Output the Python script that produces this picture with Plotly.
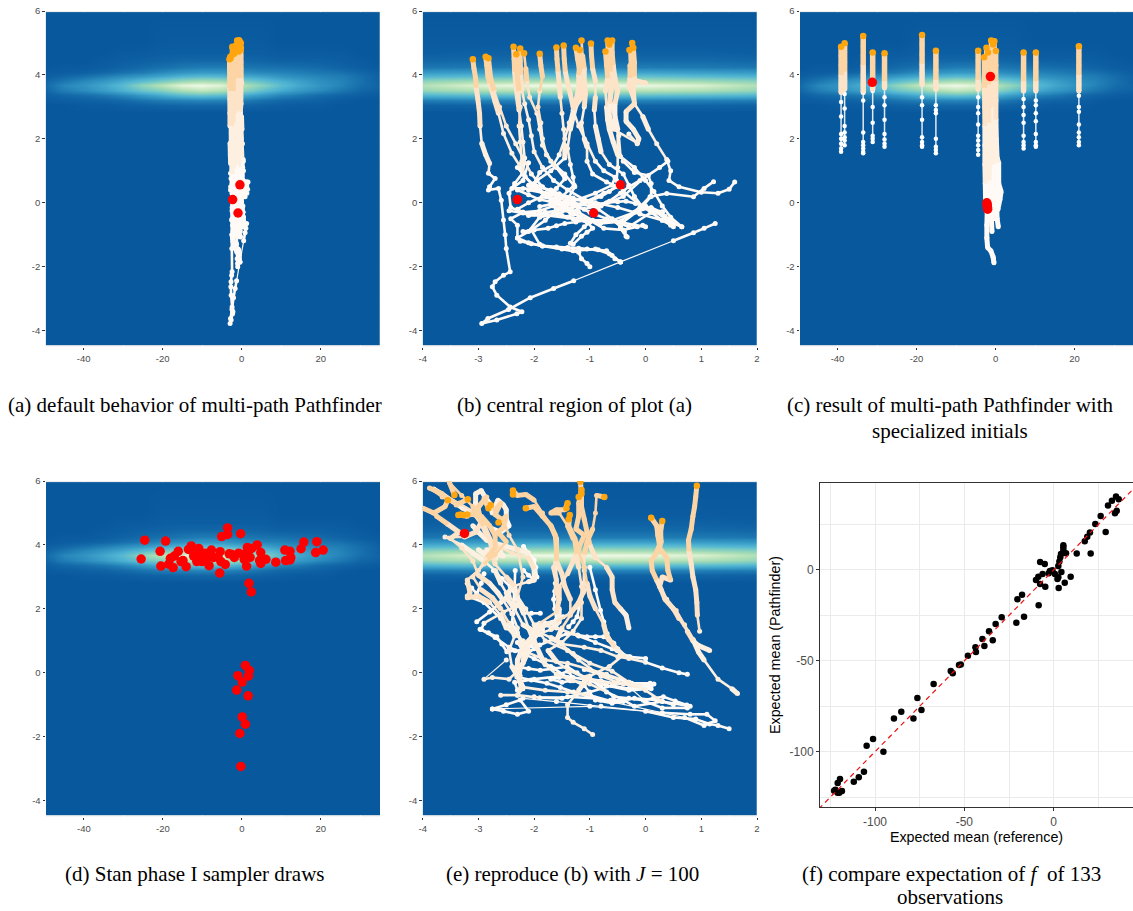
import plotly.graph_objects as go

# ---------- density background ----------
heat_y = [-4.44, -4.42, 2.85, 3.05, 3.2, 3.37, 3.53, 3.68, 3.82, 3.95, 4.1, 4.25, 4.45, 4.7, 5.0, 5.95, 5.96]
wide_x = [-50, -45, -40, -35, -30, -25, -20, -15, -10, -5, 0, 5, 10, 15, 20, 25, 30, 35]
wide_z = [
    [0] * 18,
    [0] * 18,
    [0] * 18,
    [0, 0, .01, .01, .02, .03, .04, .05, .05, .05, .04, .03, .02, .01, .01, 0, 0, 0],
    [.01, .02, .03, .04, .06, .09, .12, .14, .15, .14, .12, .08, .05, .04, .03, .01, 0, 0],
    [.02, .05, .07, .10, .15, .22, .30, .38, .42, .38, .30, .22, .14, .10, .06, .04, .02, .01],
    [.04, .12, .17, .24, .33, .45, .55, .70, .78, .72, .58, .42, .30, .22, .16, .10, .05, .03],
    [.05, .15, .20, .28, .38, .58, .75, .95, 1.0, .92, .72, .55, .38, .28, .20, .14, .07, .04],
    [.04, .10, .16, .22, .30, .40, .50, .62, .68, .65, .52, .42, .32, .25, .18, .14, .08, .03],
    [.02, .05, .08, .12, .17, .22, .28, .34, .38, .36, .30, .26, .20, .17, .14, .12, .07, .03],
    [.01, .02, .03, .05, .08, .11, .16, .20, .22, .22, .18, .15, .14, .12, .10, .08, .05, .02],
    [0, .01, .01, .02, .04, .06, .08, .10, .12, .12, .10, .09, .08, .07, .06, .04, .02, .01],
    [0, 0, 0, .01, .02, .03, .04, .05, .05, .05, .05, .04, .03, .03, .03, .02, .01, 0],
    [0, 0, 0, 0, .01, .01, .02, .02, .02, .02, .02, .02, .01, .01, .01, .01, 0, 0],
    [0, 0, 0, 0, 0, 0, .01, .01, .01, .01, .01, .01, 0, 0, 0, 0, 0, 0],
    [0] * 18,
    [0] * 18,
]
zoom_x = [-4, -3, -2, -1, 0, 1, 2]
zoom_z = [
    [0] * 7,
    [0] * 7,
    [0] * 7,
    [.03, .04, .04, .04, .04, .04, .03],
    [.12, .14, .14, .14, .14, .13, .12],
    [.34, .38, .40, .40, .40, .38, .34],
    [.60, .70, .74, .76, .74, .70, .60],
    [.72, .92, 1.0, 1.0, .98, .90, .70],
    [.58, .66, .68, .70, .68, .64, .56],
    [.34, .38, .42, .42, .42, .38, .34],
    [.22, .24, .26, .26, .26, .24, .22],
    [.10, .11, .12, .12, .12, .11, .10],
    [.05, .06, .06, .06, .06, .06, .05],
    [.02, .03, .03, .03, .03, .03, .02],
    [.01, .01, .01, .01, .01, .01, .01],
    [0] * 7,
    [0] * 7,
]

# ---------- panel (a)/(b): optimisation paths ----------
paths_b = [
    [(-3.1,4.49),(-3.08,4.2),(-3.05,3.9),(-3.04,3.6),(-3.01,3.25),(-2.98,2.8),(-2.97,2.4),(-2.94,1.86),(-2.87,1.5),(-2.8,1.23),(-2.82,.92),(-2.7,.76),(-2.8,.5),(-2.82,.4),(-2.64,.45),(-2.59,.08),(-2.55,-.54),(-2.52,-1.0),(-2.5,-1.43),(-2.43,-2.16),(-2.55,-2.27),(-2.7,-2.47),(-2.75,-2.63),(-2.67,-2.89),(-2.43,-3.26),(-2.22,-3.41),(-2.31,-3.47),(-2.67,-3.67),(-2.94,-3.78),(-2.83,-3.62),(-2.46,-3.34),(-2.07,-2.97),(-1.65,-2.68),(-1.29,-2.44),(-.45,-1.85),(.5,-1.19),(.86,-.94),(1.05,-.8),(1.25,-.65)],
    [(-2.87,4.57),(-2.85,4.3),(-2.83,3.95),(-2.8,3.75),(-2.76,3.53),(-2.7,3.15),(-2.64,2.8),(-2.55,2.17),(-2.4,1.55),(-2.25,1.13),(-2.16,.82),(-1.95,.45),(-1.77,.19),(-1.47,-.13),(-1.17,-.44),(-.81,-.65),(-.51,-.6),(-.33,-.44),(-.1,-.13),(.08,.19),(.38,.29),(.86,.19),(1.05,.45),(1.22,.66)],
    [(-2.82,4.52),(-2.8,4.2),(-2.78,3.9),(-2.72,3.5),(-2.62,3.0),(-2.5,2.4),(-2.33,1.85),(-2.2,1.4),(-2.05,.9),(-1.85,.5),(-1.6,.2),(-1.3,-.05),(-1.0,-.3),(-.7,-.5),(-.3,-.75),(.1,-.3),(.3,-.28)],
    [(-2.37,4.88),(-2.36,4.5),(-2.35,4.1),(-2.33,3.7),(-2.3,3.3),(-2.27,2.9),(-2.23,2.4),(-2.2,1.9),(-2.17,1.4),(-2.2,.95),(-2.35,.6),(-2.45,.3),(-2.42,-.15),(-2.2,-.3),(-1.9,-.35),(-1.5,-.4),(-1.1,-.55),(-.6,-.55),(-.2,-.3),(.1,-.15),(.3,-.3)],
    [(-2.25,4.83),(-2.25,4.45),(-2.24,4.0),(-2.22,3.55),(-2.17,3.1),(-2.1,2.6),(-2.05,2.1),(-2,1.6),(-1.85,1.1),(-1.65,.7),(-1.4,.4),(-1.1,.1),(-.85,-.2),(-.6,-.5),(-.45,-.75),(-.38,-.9),(-.33,-1.07)],
    [(-2.32,4.65),(-2.31,4.3),(-2.3,3.9),(-2.27,3.5),(-2.25,3.0),(-2.27,2.4),(-2.25,1.9),(-2.22,1.3),(-2.2,.9),(-2.0,.5),(-1.8,.2),(-1.5,-.1),(-1.2,-.3),(-.95,-.55),(-1.1,-.75),(-1.25,-1.0),(-1.35,-1.27)],
    [(-2.18,4.68),(-2.15,4.2),(-2.13,3.8),(-2.08,3.3),(-1.95,2.8),(-1.9,2.3),(-1.85,1.8),(-1.7,1.3),(-1.45,.9),(-1.27,.5),(-1.4,.1),(-1.65,-.1),(-1.9,-.25),(-2.2,-.3),(-2.42,-.5),(-2.3,-.7),(-2.3,-1.1),(-2.1,-1.25),(-1.85,-1.35),(-1.5,-1.45),(-1.2,-1.55),(-1.15,-1.75),(-1.05,-1.9),(-1,-2)],
    [(-1.9,4.66),(-1.88,4.3),(-1.85,3.95),(-1.9,3.5),(-1.93,3.0),(-1.88,2.5),(-1.85,2.0),(-1.78,1.5),(-1.6,1.1),(-1.45,.75),(-1.6,.45),(-1.85,.2),(-2.1,.0),(-2.3,-.2),(-2.1,-.4),(-1.75,-.4),(-1.3,-.5),(-1.0,-.6),(-.6,-.55),(-.2,-.7),(0,-.75)],
    [(-1.6,4.86),(-1.59,4.5),(-1.57,4.1),(-1.55,3.7),(-1.53,3.3),(-1.5,2.8),(-1.47,2.3),(-1.45,1.8),(-1.45,1.4),(-1.7,1.0),(-1.95,.7),(-2.1,.4),(-1.8,.3),(-1.3,.1),(-.9,.0),(-.5,-.15),(-.1,-.35),(.3,-.55),(.5,-.65),(.65,-.75)],
    [(-1.47,4.92),(-1.46,4.5),(-1.44,4.1),(-1.4,3.75),(-1.35,3.4),(-1.3,3.0),(-1.37,2.5),(-1.45,2.0),(-1.55,1.5),(-1.65,1.2),(-1.9,.95),(-2.0,.6),(-1.7,.35),(-1.3,.15),(-.8,-.1),(-.4,.2),(-.05,.75),(.25,1.1),(.4,1.3)],
    [(-1.25,4.85),(-1.22,4.5),(-1.18,4.1),(-1.13,3.7),(-1.15,3.3),(-1.25,3.05),(-1.3,2.7),(-1.35,2.3),(-1.4,1.7),(-1.35,1.2),(-1.3,.8),(-1.28,.55),(-1.5,.2),(-1.6,-.05),(-1.3,-.35),(-1.0,-.55),(-.75,-.8),(-.4,-.85),(-.15,-.75),(-.05,-.7)],
    [(-1.15,5.08),(-1.13,4.6),(-1.1,4.2),(-1.1,3.8),(-1.08,3.4),(-1.1,3.0),(-1.15,2.5),(-1.1,2.0),(-1.05,1.75),(-1.05,1.3),(-.95,.9),(-.7,.65),(-.5,.5),(-.75,.3),(-1.05,.05),(-1.35,-.2),(-1.6,-.35),(-1.9,-.45),(-2.1,-.9),(-2.3,-1.1)],
    [(-1.18,4.78),(-1.18,4.4),(-1.2,4.0),(-1.2,3.6),(-1.25,3.2),(-1.3,2.9),(-1.2,2.4),(-1.05,1.85),(-.9,1.3),(-.75,1.0),(-.55,.8),(-.6,.55),(-.9,.3),(-1.3,.05),(-1.6,-.2),(-1.8,-.55),(-2.05,-.85),(-1.9,-1.3),(-1.3,-1.5),(-.9,-1.45),(-.65,-1.6),(-.45,-1.85)],
    [(-.98,4.98),(-.97,4.6),(-.95,4.2),(-.9,3.8),(-.9,3.3),(-.92,2.9),(-.9,2.4),(-.85,2.0),(-.8,1.6),(-.65,1.2),(-.4,.9),(-.3,.55),(-.2,.2),(-.05,-.15),(.15,-.25),(.3,-.3)],
    [(-.72,4.73),(-.7,4.3),(-.68,3.9),(-.72,3.5),(-.7,3.0),(-.68,2.6),(-.65,2.3),(-.58,1.9),(-.5,1.5),(-.5,1.1),(-.52,.7),(-.4,.35),(-.15,.0),(.1,-.3),(.3,-.55),(.45,-.7)],
    [(-.68,5.08),(-.67,4.7),(-.65,4.3),(-.62,3.9),(-.62,3.5),(-.65,3.1),(-.65,2.7),(-.57,2.3),(-.15,1.87)],
    [(-.6,5.08),(-.6,4.7),(-.58,4.3),(-.55,3.9),(-.5,3.5),(-.55,3.1),(-.55,2.7),(-.5,2.3),(-.5,1.7),(-.4,1.3),(-.2,.95),(.05,.85),(.1,.6),(.1,.2),(-.1,-.2),(-.4,-.6),(-.45,-.8),(-.35,-1.05)],
    [(-.24,5.0),(-.23,4.6),(-.22,4.2),(-.23,3.85),(-.1,3.78),(0,3.75)],
    [(-.29,4.78),(-.28,4.3),(-.28,3.9),(-.3,3.6),(-.2,3.1),(-.35,2.85),(-.35,2.55),(-.22,2.3),(-.12,2.0),(-.15,1.85),(-.3,2.15)],
    [(-.22,4.85),(-.2,4.4),(-.2,3.95),(-.22,3.5),(-.2,3.1),(-.05,2.7),(.05,2.3),(.2,1.85),(.38,1.35),(.45,1.0),(.42,.7),(.6,.5),(1.0,.33),(1.3,.3),(1.5,.42),(1.6,.65)],
    [(-.65,4.95),(-.64,4.5),(-.63,4.1),(-.6,3.6),(-.62,3.1),(-.55,2.6),(-.48,2.1),(-.45,1.45),(-.2,1.1),(.0,.7),(.15,.35),(.3,-.1),(.45,-.45),(.65,-.75)],
]
tails_b = [
    [(-2.3,.4),(-2.1,.25),(-1.9,.1),(-1.7,.03),(-1.5,-.03),(-1.3,-.1),(-1.1,-.2),(-.9,-.1),(-.65,.05),(-.45,.3),(-.3,.5),(-.1,.7)],
    [(-2.45,-.25),(-2.2,-.32),(-2.0,-.35),(-1.8,-.3),(-1.6,-.25),(-1.4,-.18),(-1.2,-.1),(-1.0,.05),(-.8,.2),(-.65,.35),(-.5,.55)],
    [(-2.1,.55),(-1.9,.48),(-1.7,.4),(-1.55,.28),(-1.4,.15),(-1.3,0),(-1.2,-.15),(-1.3,-.3),(-1.4,-.45),(-1.2,-.5),(-1.05,-.6),(-.95,-.8),(-1.05,-.92),(-1.15,-1.05),(-1.3,-1.3)],
    [(-2.2,-.9),(-2.0,-.85),(-1.75,-.8),(-1.6,-.72),(-1.45,-.65),(-1.25,-.6),(-1.1,-.55),(-.8,-.6)],
    [(-2.25,-1.2),(-2.05,-1.28),(-1.85,-1.35),(-1.6,-1.38),(-1.4,-1.4),(-1.2,-1.42),(-1.05,-1.45),(-.85,-1.47),(-.7,-1.5),(-.6,-1.65),(-.55,-1.75),(-.45,-1.85)],
    [(-2.3,1.1),(-2.2,.9),(-2.25,1.2),(-2.1,1.25),(-2.2,.7),(-2.4,.45),(-2.2,.45),(-1.9,.4),(-1.75,.25),(-1.6,.1)],
    [(-1.6,-.05),(-1.45,-.02),(-1.3,.0),(-1.15,-.05),(-1.0,-.1),(-.85,-.05),(-.7,.0),(-.5,.03),(-.35,.05),(-.18,-.02),(0,-.1),(.12,-.2),(.25,-.3),(.35,-.42),(.45,-.55)],
    [(-.04,-.13),(.1,-.22),(.2,-.3),(.35,-.5),(.5,-.75)],
    [(-1.9,-.12),(-1.7,-.05),(-1.55,.05),(-1.4,-.05),(-1.55,-.2),(-1.35,-.3),(-1.5,-.12),(-1.65,.1)],
]
red_a_x = [-0.45, -2.3, -0.93]
red_a_y = [0.56, 0.1, -0.32]

# ---------- panel (c): specialised initials ----------
bar_x = [-39.1, -38.2, -33.5, -31.1, -28.1, -18.6, -15.1, -4.4, 7.1, 10.2, 21.1]
bar_dense = [
    [4.88, 4.6, 4.3, 4.0, 3.7, 3.45],
    [4.99, 4.7, 4.4, 4.1, 3.8, 3.55],
    [5.22, 4.9, 4.6, 4.3, 4.0, 3.7, 3.45],
    [4.7, 4.4, 4.1, 3.8, 3.55],
    [4.68, 4.4, 4.1, 3.8, 3.6],
    [5.25, 4.95, 4.65, 4.35, 4.05, 3.7],
    [4.76, 4.45, 4.15, 3.85, 3.55],
    [4.76, 4.45, 4.15, 3.85, 3.55],
    [4.7, 4.4, 4.1, 3.8, 3.5],
    [4.7, 4.4, 4.1, 3.8, 3.5],
    [4.9, 4.6, 4.3, 4.0, 3.7, 3.5],
]
bar_sparse = [
    [3.45, 3.15, 2.7, 2.15, 2.0, 1.85, 1.7, 1.6],
    [3.55, 3.4, 2.95, 2.4, 2.2, 2.05, 1.95, 1.8],
    [3.45, 3.2, 2.2, 1.9, 1.8, 1.7, 1.6, 1.55],
    [3.55, 3.5, 3.0, 2.5, 2.1, 2.0, 1.9],
    [3.6, 3.3, 3.05, 2.6, 2.15, 1.98, 1.85, 1.75],
    [3.7, 3.3, 3.05, 2.6, 2.05, 1.9, 1.8, 1.75],
    [3.55, 3.05, 2.9, 2.8, 2.0, 1.75, 1.65, 1.55],
    [3.55, 3.3, 3.0, 2.8, 2.45, 2.1, 1.95, 1.8, 1.65, 1.5],
    [3.5, 3.25, 3.0, 2.75, 2.5, 2.1, 1.9, 1.8, 1.7],
    [3.5, 3.2, 3.05, 2.8, 2.55, 2.15, 1.9, 1.8, 1.75],
    [3.5, 3.35, 3.0, 2.85, 2.45, 2.2, 2.05, 1.9, 1.8],
]
paths_c = [
    [(-2.9,4.55),(-2.8,4.1),(-2.8,3.6),(-2.75,3),(-2.7,2.4),(-2.7,1.8),(-2.7,1.2),(-2.6,.6),(-2.5,0)],
    [(-2.3,4.85),(-2.3,4.4),(-2.2,3.9),(-2.2,3.3),(-2.1,2.7),(-2.2,2.0),(-2.2,1.4),(-2.2,.8),(-2.1,.2),(-2.1,-.3),(-2.2,-.7),(-2.2,-1.1),(-2,-1.4),(-1.2,-1.5),(-.6,-1.7),(-.4,-1.88)],
    [(-1.9,4.7),(-1.9,4.2),(-1.8,3.7),(-1.7,3.1),(-1.7,2.5),(-1.7,1.9),(-1.6,1.3),(-1.6,.7),(-1.6,.1),(-1.5,-.3)],
    [(-1.1,5.08),(-1.1,4.6),(-1,4.1),(-1,3.6),(-1.1,3.1),(-1.1,2.5),(-1.1,1.9),(-1.2,1.3),(-1.2,.7),(-1.1,.1),(-1.1,-.4),(-.9,-.9)],
    [(-.6,4.95),(-.6,4.5),(-.6,4.0),(-.6,3.5),(-.6,3.0),(-.6,2.4),(-.7,1.8),(-.7,1.2),(-.6,.6),(-.5,0),(-.5,-.5)],
    [(-.3,5.05),(-.3,4.6),(-.3,4.1),(-.2,3.6),(-.3,3.1),(-.4,2.6),(-.3,2),(-.2,1.5),(0,.9),(.3,.4),(.3,-.1),(.4,-.5),(.7,-.75)],
    [(.1,4.75),(.1,4.3),(.1,3.8),(.1,3.2),(.1,2.6),(.2,2),(.4,1.4),(.8,1.25),(.8,.6),(1.4,.35),(1.1,.1),(.6,-.2)],
]
red_c_x = [-31.2, -1.3, -2.2, -2.15, -2.1, -2.05, -2.0]
red_c_y = [3.77, 3.95, 0.0, -0.05, -0.1, -0.15, -0.2]

# ---------- panel (d): Stan phase I draws ----------
draw_x = [-24.6,-25.5,-19.3,-20.7,-20.5,-18.1,-18.5,-17.4,-17.1,-16.1,-15.4,-14.9,-14.1,-13.5,-12.8,-11.8,-12.2,-11.4,-10.9,-10.5,-10.1,-9.3,-8.8,-8.3,-7.7,-7.2,-5.5,-5.3,-5.6,-5.1,-4.2,-3.6,-3.6,-3.2,-1.9,-.8,-.3,.6,1.2,1.4,2.1,2.5,3.9,4.8,4.5,4.8,6.1,8.6,10.9,11.1,12.2,12.4,12.2,15,15.7,18.7,19,20.6,1.8,2.4,.9,1.9,1.7,-1,.1,-1.3,1.6,.1,.9,-.5,-.25,-11,-6,-2.5,0.3,1.5,-9]
draw_y = [4.15,3.56,4.12,3.8,3.34,3.58,3.40,3.29,3.65,3.8,3.48,3.51,3.32,3.86,3.97,3.84,3.65,3.48,3.89,3.63,3.48,3.74,3.61,3.35,3.84,3.61,3.79,3.48,3.12,4.26,3.39,4.53,4.33,3.72,3.61,3.74,4.35,3.55,3.34,3.92,3.61,3.89,4.0,3.76,3.51,3.42,3.55,3.46,3.84,3.51,3.8,3.61,3.53,3.88,4.09,3.76,4.1,3.84,2.8,2.53,.23,.07,-.1,-.09,-.29,-.54,-.72,-1.38,-1.61,-1.9,-2.93,3.7,3.6,3.7,3.7,3.75,3.55]

# ---------- panel (e): J = 100 ----------
paths_e = [
    [(-3.43,5.56),(-3.52,5.95),(-3.3,5.55),(-3.1,5.2),(-3.0,4.9),(-2.9,4.6),(-2.8,4.2),(-2.75,3.8),(-2.7,3.4),(-2.5,3.0),(-2.35,2.7),(-2.3,2.3),(-2.2,1.9),(-2.1,1.4),(-2.0,1.0),(-1.9,.6),(-1.8,.25),(-1.6,-.05),(-1.3,-.25),(-1.0,-.35),(-.7,-.6),(-.4,-.85),(-.2,-1.05),(.3,-.9),(.8,-1.05)],
    [(-3.19,5.43),(-3.4,5.25),(-3.65,5.5),(-3.88,5.78),(-3.65,5.6),(-3.35,5.3),(-3.1,5.05),(-2.95,4.7),(-3.05,4.4),(-3.25,4.25),(-3.6,4.25),(-3.3,4.0),(-3.1,3.75),(-2.9,3.5),(-2.7,3.2),(-2.6,2.8),(-2.5,2.5),(-2.3,2.1),(-2.55,1.9),(-2.9,1.55),(-2.95,1.35),(-2.7,1.1),(-2.45,.8),(-2.2,.6),(-2,.45),(-1.7,.2),(-1.4,-.15),(-1.1,-.4),(-.9,-.85),(-.6,-.95),(-.4,-.9)],
    [(-3.27,4.94),(-3.1,4.95),(-2.95,4.9),(-2.8,4.6),(-2.7,4.3),(-2.7,3.9),(-2.85,3.6),(-3.0,3.2),(-3.2,2.9),(-3.15,2.5),(-3.2,2.35),(-3.0,2.4),(-2.8,2.2),(-2.6,1.8),(-2.5,1.4),(-2.2,1.0),(-2.1,.7),(-2.2,.3),(-2.3,.05),(-2.45,-.2),(-2.75,-.15),(-2.9,-.2),(-2.5,.4)],
    [(-3.36,4.94),(-3.2,4.9),(-3.0,5.2),(-2.85,5.5),(-3.0,5.1),(-2.95,4.7),(-2.85,4.3),(-2.65,3.95),(-2.4,3.75),(-2.1,3.6),(-2,3.25),(-2.0,2.9),(-2.1,2.85),(-2.4,2.7),(-2.5,2.35),(-2.35,2.0),(-2.2,1.5),(-2,1.3),(-1.9,1.5),(-1.6,1.4),(-1.2,1.15),(-.9,.95),(-.6,.75),(-.3,.5),(0,.45)],
    [(-2.82,5.15),(-2.9,5.45),(-2.7,5.1),(-2.6,5.3),(-2.7,4.95),(-2.55,4.75),(-2.45,4.3),(-2.3,3.85),(-2.2,3.0),(-2.3,2.4),(-2.15,2.0),(-2.0,1.5),(-1.8,1.0),(-1.4,.7),(-1.2,.4),(-.8,-.1),(-.5,-.3),(-.15,-.45),(.1,-.35)],
    [(-2.64,4.7),(-2.5,4.9),(-2.55,4.55),(-2.65,4.4),(-2.5,4.1),(-2.7,3.7),(-2.9,3.4),(-3.1,3.0),(-2.95,2.6),(-2.75,2.35),(-2.6,2.0),(-2.45,1.55),(-2.35,1.15),(-2.45,.7),(-2.4,.2),(-2.3,-.1),(-2.2,-.45),(-1.8,-.55),(-1.4,-.6),(-1.0,-.7),(-.6,-.9),(-.2,-.8),(.2,-.85)],
    [(-3.55,5.4),(-3.6,5.2),(-3.8,5.0),(-4,5.15),(-3.75,4.9),(-3.55,4.65),(-3.35,4.4),(-3.5,4.2),(-3.3,3.9),(-3.1,3.5),(-3.0,3.05),(-2.8,2.8),(-2.65,2.5),(-2.55,2.25),(-2.4,1.85),(-2.3,1.4),(-2.25,.9),(-2.2,.4),(-2.25,-.1),(-2.2,-.5),(-2.3,-.7),(-1.9,-.78),(-1.5,-.8),(-1.0,-.6),(-.6,-.4),(-.3,-.5),(.1,-.4)],
    [(-2.38,5.7),(-2.3,5.55),(-2.15,5.58),(-2,5.4),(-1.85,5.0),(-1.7,4.6),(-1.6,4.2),(-1.6,3.8),(-1.65,3.3),(-1.6,2.9),(-1.6,2.5),(-1.55,2.0),(-1.55,1.6),(-1.7,1.35),(-1.95,1.2),(-2.05,.95),(-2.2,.8),(-2.3,.4),(-2.3,.0),(-2.25,-.5),(-2.3,-.7),(-2.6,-.7)],
    [(-2.15,5.15),(-2.0,5.2),(-1.85,4.9),(-1.7,4.6),(-1.62,4.3),(-1.6,3.9),(-1.6,3.5),(-1.5,3.1),(-1.45,2.7),(-1.35,2.3),(-1.35,1.8),(-1.5,1.4),(-1.6,1.0),(-1.3,.6),(-1.0,.3),(-.6,.05),(-.3,-.3),(0,-.55),(.3,-.9),(.5,-1.0)],
    [(-1.4,5.3),(-1.45,5.1),(-1.6,5.1),(-1.7,5.0),(-1.55,5.0),(-1.4,4.6),(-1.3,4.2),(-1.25,3.7),(-1.2,3.3),(-1.15,2.7),(-1.15,2.2),(-1.15,1.7),(-1.3,1.3),(-1.5,.95),(-1.75,.7),(-1.6,.35),(-1.35,.05),(-1.1,-.15),(-.8,-.3),(-.4,-.35),(-.05,-.38),(.15,-.35)],
    [(-1.36,4.94),(-1.38,4.6),(-1.27,4.2),(-1.2,3.8),(-1.1,3.3),(-1.05,2.8),(-1,2.4),(-.9,2),(-.75,1.5),(-.7,1.15),(-.55,.8),(-.4,.55),(-.65,.2),(-1.0,-.1),(-1.1,-.3),(-1.2,-.55),(-1.4,-1),(-1.4,-1.4),(-1.3,-1.55),(-1.1,-1.75),(-.95,-1.93)],
    [(-1.17,5.98),(-1.15,5.6),(-1.15,5.2),(-1.1,4.8),(-1.05,4.4),(-1.0,4.0),(-.9,3.6),(-.7,3.3),(-.6,3.0),(-.6,2.6),(-.55,2.2),(-.45,2.0),(-.35,1.8),(-.3,1.4)],
    [(-1.15,5.72),(-1.2,5.3),(-1.2,4.9),(-1.25,4.5),(-1.1,4.3),(-1.2,3.9),(-1.3,3.5),(-1.4,3.1),(-1.55,2.7),(-1.55,2.3),(-1.6,1.9),(-1.9,1.55),(-1.95,1.3),(-2.1,1.0),(-2.2,.7),(-1.8,.4),(-1.4,.3),(-1.0,.1),(-.7,-.05),(-.45,-.2),(.0,-.9),(.3,-1.1),(.75,-1.1)],
    [(-.74,5.5),(-.88,5.55),(-.9,5.0),(-.95,4.5),(-1.05,4.1),(-1.1,3.7),(-1.1,3.2),(-1.1,2.6),(-1.2,2.2),(-1.35,1.85),(-1.6,1.6),(-1.8,1.5),(-1.95,1.3),(-1.7,1.1),(-1.5,.9),(-1.1,.8),(-.8,.7),(-.5,.5),(-.3,.45),(0,.33),(.3,.15),(.6,.0),(.75,-.05)],
    [(.1,4.85),(.2,4.6),(.22,4.3),(.25,4.0),(.18,3.7),(.1,3.5),(.12,3.2),(.2,2.9),(.28,2.6),(.35,2.3),(.5,2.0),(.6,1.7),(.75,1.3),(.85,1.0),(.95,.85),(1.15,.7)],
    [(.3,4.75),(.27,4.4),(.28,4.1),(.25,3.9),(.38,3.6),(.4,3.2),(.45,2.9),(.3,3.0),(.25,2.7),(.38,2.3),(.55,1.95),(.7,1.5),(.85,1.05),(.95,.65),(1.05,.4),(1.3,-.2),(1.55,-.5),(1.65,-.65)],
    [(.92,5.85),(.9,5.5),(.88,5.2),(.85,4.9),(.82,4.5),(.77,4.15),(.78,3.8),(.82,3.4),(.85,3),(.9,2.6),(.92,2.2),(.93,1.8),(.97,1.3)],
]
tangle_e = [
    [(-3.8,5.75),(-3.62,5.55),(-3.45,5.35),(-3.28,5.15),(-3.1,5.0),(-3.05,5.3),(-3.05,5.6),(-2.95,5.7),(-2.88,5.5),(-2.8,5.3),(-2.75,5.0),(-2.7,5.2),(-2.65,5.4),(-2.55,5.25),(-2.5,5.1),(-2.5,4.8),(-2.45,4.6),(-2.6,4.4),(-2.75,4.5)],
    [(-3.0,3.85),(-2.8,3.6),(-2.6,3.8),(-2.9,3.75),(-2.7,3.95),(-2.55,3.65),(-2.85,3.85),(-2.7,3.55),(-2.62,3.9)],
    [(-3.1,4.6),(-3.0,4.4),(-2.85,4.15),(-2.7,4.05),(-2.5,3.95),(-2.3,3.85),(-2.1,3.75)],
]
tails_e = [
    [(-2.2,-.8),(-1.6,-.9),(-.8,-1.05),(0,-1.2),(.5,-1.4),(.9,-1.45),(1.15,-1.6),(1.3,-1.65),(1.5,-1.75)],
    [(-2.75,-1.13),(-2.5,-1.0),(-2.25,-.85),(-2.1,-1.2),(-2.3,-1.3),(-2.55,-1.2),(-2.75,-1.13),(-1.0,-1.05),(.3,-1.25),(.8,-1.3),(1.1,-1.3),(1.25,-1.5),(1.05,-1.65),(.7,-1.4),(-.9,-.8),(-1.4,-.75),(-2.0,-.75)],
    [(-1.1,.1),(-.7,-.1),(-.3,-.3),(.0,-.4),(.1,-.5),(-.3,-.55),(-.7,-.4),(-1.1,-.2),(-1.5,-.1),(-2.0,-.2),(-2.35,-.3),(-2.3,-.55)],
    [(-3.2,2.4),(-2.9,2.2),(-2.6,1.7),(-2.4,1.3)],
    [(-3.03,1.6),(-2.8,1.9),(-2.6,2.2),(-2.45,2.4)],
    [(-2.97,1.36),(-2.82,1.25),(-2.67,1.13),(-2.58,.9),(-2.49,.66),(-2.34,.69),(-2.19,.72),(-2.05,.85),(-1.98,1.35)],
    [(-1.95,1.44),(-1.8,1.55),(-1.6,1.65),(-1.48,1.75),(-1.35,1.86),(-1.25,2.05),(-1.17,2.22),(-1.12,2.5),(-1.11,2.8),(-1.1,3.3)],
    [(-1.6,1.65),(-1.63,2.0),(-1.65,2.3),(-1.63,2.55),(-1.62,2.8),(-1.6,3.3)],
    [(-1.9,.87),(-1.65,1.05),(-1.41,1.23),(-1.22,1.18),(-1.05,1.13),(-.9,1.13),(-.75,1.13),(-.66,1.03),(-.57,.92),(-.5,.75),(-.45,.6),(-.28,.5)],
    [(-1,3.3),(-.9,2.6),(-.81,1.96),(-.75,1.6),(-.69,1.23),(-.6,.95),(-.51,.7)],
    [(-1.11,2.6),(-1.17,2.2),(-1.23,1.75),(-1.3,1.6),(-1.38,1.44)],
    [(-2.73,3.2),(-2.58,2.95),(-2.43,2.7),(-2.3,2.3),(-2.19,1.86),(-2.05,1.86),(-1.89,1.86)],
    [(-2.34,3.2),(-2.35,2.7),(-2.37,2.17),(-2.38,1.85),(-2.4,1.55),(-2.3,1.25),(-2.19,.92)],
    [(-2.19,3.2),(-2.1,3.05),(-2,2.9),(-1.95,3.0),(-1.97,3.3),(-2,3.53),(-2.1,3.75),(-2.19,3.95)],
    [(-3.2,2.8),(-3.12,2.65),(-3.03,2.48),(-2.95,2.8),(-2.9,3.1)],
    [(-2.31,-.13),(-2.05,-.23),(-1.77,-.33),(-1.53,-.46),(-1.29,-.6),(-1.05,-.73),(-.81,-.86),(-.63,-.86),(-.45,-.86)],
    [(-2.31,.19),(-2.1,.13),(-1.89,.08),(-1.65,.13),(-1.41,.19),(-1.23,0),(-1.05,-.18),(-.8,-.25),(-.57,-.33),(-.25,-.33),(.08,-.33)],
    [(-1.05,-.13),(-.8,-.45),(-.57,-.75),(-.3,-.8),(-.04,-.86),(.14,-.8),(.32,-.75),(.53,-.88),(.74,-1.01)],
    [(-2.2,.7),(-2.3,.95),(-2.1,.85),(-2.15,.6),(-2.0,.75),(-2.2,.55)],
    [(-2.0,1.35),(-1.9,1.2),(-2.05,1.2),(-1.95,1.5),(-1.85,1.35)],
    [(-1.55,-.15),(-1.7,-.2),(-1.5,-.3),(-1.35,-.25),(-1.55,-.05),(-1.4,.05),(-1.3,-.15)],
]
caps_e_x = [-1.42, -1.38, -1.15, -3.2, -3.32, -2.38, -2.78, -1.2]
caps_e_y = [5.15, 4.8, 5.6, 4.95, 4.95, 5.58, 5.25, 5.5]
red_e_x = [-3.25]
red_e_y = [4.36]

# ---------- panel (f): expected means ----------
ref_mean = [-122.9,-122.2,-121,-120,-118.5,-120.9,-119.6,-111.9,-109.1,-106.2,-104.7,-101.1,-95.3,-89.4,-85.3,-78.5,-76.3,-74,-67.2,-57.6,-56.5,-53,-52,-48,-43.8,-43.5,-39.9,-38.8,-36.2,-34.1,-32.5,-29.1,-20.9,-20.3,-17.7,-16.6,-8.4,-9.9,-8.6,-7.6,-7.6,-5,-6.2,-4.7,-2.8,-2.1,-.7,.7,2.1,2.8,2.6,4.3,2.6,3.2,3.7,4.1,5.4,5.4,5.4,6.9,6.2,9.5,12.9,17.4,18.8,20.3,20.7,23.3,26.3,29.1,30.4,32.6,34.9,36.4,34.3,35.3]
path_mean = [-121.5,-121,-122.6,-122.6,-121.7,-117.2,-115,-116.5,-114,-111,-96.7,-93,-100,-81.7,-78,-81.8,-70.5,-77,-62.8,-55.6,-56.9,-52.3,-52,-47.2,-42.6,-45.1,-38,-41.8,-33.8,-38.7,-29.7,-26,-29,-16.1,-13.6,-25.7,-19.4,-5.5,-3.7,-7.7,4.4,3.3,-2.2,-9.2,-1.8,-.6,-.2,-2.2,-5,-9.9,-4,-1.1,2.2,4.6,7,8.8,11,12.5,13.6,9.2,-7,-3.7,9,15.8,18.2,20.6,9,25.3,29.7,20.9,35.4,38,40.4,38.9,31.2,32.5]
identity_line = [-135, 50]

# ---------- text ----------
wide_ticks = [-40, -20, 0, 20]
wide_minor = [-30, -10, 10, 30]
zoom_ticks = [-4, -3, -2, -1, 0, 1, 2]
zoom_minor = [-3.5, -2.5, -1.5, -.5, .5, 1.5]
y_ticks = [-4, -2, 0, 2, 4, 6]
y_minor = [-3, -1, 1, 3, 5]
f_ticks = [-100, -50, 0]
f_minor = [-125, -75, -25, 25]
captions = [
    ("(a) default behavior of multi-path Pathfinder", 195, 405),
    ("(b) central region of plot (a)", 574.5, 405),
    ("(c) result of multi-path Pathfinder with", 950, 405),
    ("specialized initials", 950, 431),
    ("(d) Stan phase I sampler draws", 195, 874),
    ("(e) reproduce (b) with <i>J</i> = 100", 572, 874),
    ("(f) compare expectation of <i>f</i>  of 133", 951, 874),
    ("observations", 950, 897),
]

W, H = 1133, 911
GNBU = [[0, "#08589e"], [1/6, "#2b8cbe"], [2/6, "#4eb3d3"], [3/6, "#7bccc4"],
        [4/6, "#a8ddb5"], [5/6, "#ccebc5"], [1, "#f0f9e8"]]
BUCKETS = [(1e9, "#fffaf5"), (110, "#fdf0e1"), (55, "#fde3c8"), (24, "#fdd4a4")]
ORANGE = "#ffa50f"
RED = "#ff0000"
MID = 2.6
THIN = 1.2

fig = go.Figure()


def sfx(n):
    return "" if n == 1 else str(n)


def add_axes(n, x_px, y_px, xr, yr, xt, xm, yt, ym, f=False):
    common = dict(tickmode="array", ticks="outside", ticklen=3 if f else 2.5, tickcolor="#333333", automargin=False,
                  tickfont=dict(family="Liberation Sans", size=12 if f else 9.5, color="#4d4d4d"),
                  showgrid=True, gridcolor="#ebebeb" if f else "white", gridwidth=1.3 if f else 1, zeroline=False)
    minor = dict(showgrid=True, gridcolor="#ebebeb" if f else "white", gridwidth=0.7, ticks="")
    fig.layout[f"xaxis{sfx(n)}"] = dict(domain=[x_px[0] / W, x_px[1] / W], range=xr, anchor=f"y{sfx(n)}",
                                        tickvals=xt, ticktext=[str(v) for v in xt], minor=dict(tickvals=xm, **minor), **common)
    fig.layout[f"yaxis{sfx(n)}"] = dict(domain=[1 - y_px[1] / H, 1 - y_px[0] / H], range=yr, anchor=f"x{sfx(n)}",
                                        tickvals=yt, ticktext=[str(v) for v in yt], minor=dict(tickvals=ym, **minor), **common)


def panel_background(n):
    fig.add_shape(type="rect", xref=f"x{sfx(n)} domain", yref=f"y{sfx(n)} domain", x0=0, x1=1, y0=0, y1=1,
                  fillcolor="#ebebeb", line_width=0, layer="below")


def heat(n, xs, zs):
    fig.add_trace(go.Heatmap(x=xs, y=heat_y, z=zs, zmin=0, zmax=1, colorscale=GNBU, showscale=False,
                             zsmooth="best", hoverinfo="skip", xaxis=f"x{sfx(n)}", yaxis=f"y{sfx(n)}"))


def add_paths(n, paths, sx=55.7, sy=31.95, thick=14.5, mid=29, wide=5, msize=5, thick_cum=100,
              scale=1.0, start=0, caps=True):
    segs, pts = {}, {}
    cap_x, cap_y = [], []
    ax = dict(xaxis=f"x{sfx(n)}", yaxis=f"y{sfx(n)}", hoverinfo="skip")
    for p in paths:
        cum = start
        if caps:
            cap_x.append(p[0][0])
            cap_y.append(p[0][1])
        for i in range(len(p)):
            b = next(c for lim, c in reversed(BUCKETS) if cum < lim)
            pts.setdefault(b, ([], []))
            pts[b][0].append(p[i][0])
            pts[b][1].append(p[i][1])
            if i + 1 < len(p):
                L = ((p[i + 1][0] - p[i][0]) ** 2 * sx ** 2 + (p[i + 1][1] - p[i][1]) ** 2 * sy ** 2) ** 0.5
                w = wide if (L <= thick and cum < thick_cum) else (MID if L <= mid else THIN)
                s = segs.setdefault((b, w), ([], []))
                s[0].extend([p[i][0], p[i + 1][0], None])
                s[1].extend([p[i][1], p[i + 1][1], None])
                cum += L / scale
    for _, c in BUCKETS:
        for w in (THIN, MID, wide):
            if (c, w) in segs:
                xs, ys = segs[(c, w)]
                fig.add_trace(go.Scatter(x=xs, y=ys, mode="lines", line=dict(color=c, width=w), **ax))
        if c in pts:
            fig.add_trace(go.Scatter(x=pts[c][0], y=pts[c][1], mode="markers", marker=dict(color=c, size=msize), **ax))
    if cap_x:
        fig.add_trace(go.Scatter(x=cap_x, y=cap_y, mode="markers", marker=dict(color=ORANGE, size=6.5), **ax))


def add_red(n, xs, ys):
    fig.add_trace(go.Scatter(x=xs, y=ys, mode="markers", marker=dict(color=RED, size=9.5),
                             hoverinfo="skip", xaxis=f"x{sfx(n)}", yaxis=f"y{sfx(n)}"))


Y_RANGE = [-4.5, 6]
add_axes(1, (45.7, 380), (11, 346.6), [-49.6, 35], Y_RANGE, wide_ticks, wide_minor, y_ticks, y_minor)
add_axes(2, (422.7, 757), (11, 346.6), [-4, 2], Y_RANGE, zoom_ticks, zoom_minor, y_ticks, y_minor)
add_axes(3, (800, 1133), (11, 346.6), [-49.5, 34.8], Y_RANGE, wide_ticks, wide_minor, y_ticks, y_minor)
add_axes(4, (46, 380), (481, 816.6), [-49.6, 35], Y_RANGE, wide_ticks, wide_minor, y_ticks, y_minor)
add_axes(5, (422.7, 757), (481, 816.6), [-4, 2], Y_RANGE, zoom_ticks, zoom_minor, y_ticks, y_minor)
add_axes(6, (820, 1133), (482.7, 807.3), [-130.8, 44.4], [-130.6, 48], f_ticks, f_minor, [0, -50, -100], f_minor, f=True)

for n in (1, 2, 3, 4, 5):
    panel_background(n)

heat(1, wide_x, wide_z)
add_paths(1, tails_b, start=1000, caps=False)
add_paths(1, paths_b)
add_red(1, red_a_x, red_a_y)

heat(2, zoom_x, zoom_z)
add_paths(2, tails_b, start=1000, caps=False)
add_paths(2, paths_b)
add_red(2, red_a_x, red_a_y)

heat(3, wide_x, wide_z)
for x, ys in zip(bar_x, bar_sparse):
    fig.add_trace(go.Scatter(x=[x] * len(ys), y=ys, mode="lines+markers", line=dict(color="#dfe9f2", width=1.5),
                             marker=dict(color="white", size=4.5), hoverinfo="skip", xaxis="x3", yaxis="y3"))
add_paths(3, [[(x, v) for v in ys] for x, ys in zip(bar_x, bar_dense)], sx=3.95, wide=5.5)
add_paths(3, paths_c, sx=3.95, thick=22, mid=40, thick_cum=230)
add_red(3, red_c_x, red_c_y)

heat(4, wide_x, wide_z)
add_red(4, draw_x, draw_y)

heat(5, zoom_x, zoom_z)
add_paths(5, tails_e, start=1000, caps=False)
add_paths(5, tangle_e, start=60, caps=False, scale=2.5, thick=22, thick_cum=300)
add_paths(5, paths_e, scale=2.5, thick_cum=90)
fig.add_trace(go.Scatter(x=caps_e_x, y=caps_e_y, mode="markers", marker=dict(color=ORANGE, size=6.5),
                         hoverinfo="skip", xaxis="x5", yaxis="y5"))
add_red(5, red_e_x, red_e_y)

fig.add_trace(go.Scatter(x=ref_mean, y=path_mean, mode="markers", marker=dict(color="black", size=6.5),
                         hoverinfo="skip", xaxis="x6", yaxis="y6"))
fig.add_trace(go.Scatter(x=identity_line, y=identity_line, mode="lines",
                         line=dict(color="#ee1111", width=1.2, dash="5px,4px"),
                         hoverinfo="skip", xaxis="x6", yaxis="y6"))
fig.layout.xaxis6.update(title=dict(text="Expected mean (reference)", standoff=2,
                                    font=dict(family="Liberation Sans", size=14.3, color="black")),
                         mirror=True, showline=True, linecolor="#333333", linewidth=1)
fig.layout.yaxis6.update(title=dict(text="Expected mean (Pathfinder)", standoff=5,
                                    font=dict(family="Liberation Sans", size=14.3, color="black")),
                         mirror=True, showline=True, linecolor="#333333", linewidth=1)

for text, cx, cy in captions:
    fig.add_annotation(text=text, xref="paper", yref="paper", x=cx / W, y=1 - cy / H, xanchor="center",
                       yanchor="middle", showarrow=False,
                       font=dict(family="Liberation Serif", size=21, color="black"))

fig.update_layout(width=W, height=H, margin=dict(l=0, r=0, t=0, b=0, autoexpand=False), showlegend=False,
                  paper_bgcolor="white", plot_bgcolor="white")
fig.write_html("out.html", post_script="document.body.style.margin='0';document.documentElement.style.overflow='hidden';",
               config=dict(displayModeBar=False))
